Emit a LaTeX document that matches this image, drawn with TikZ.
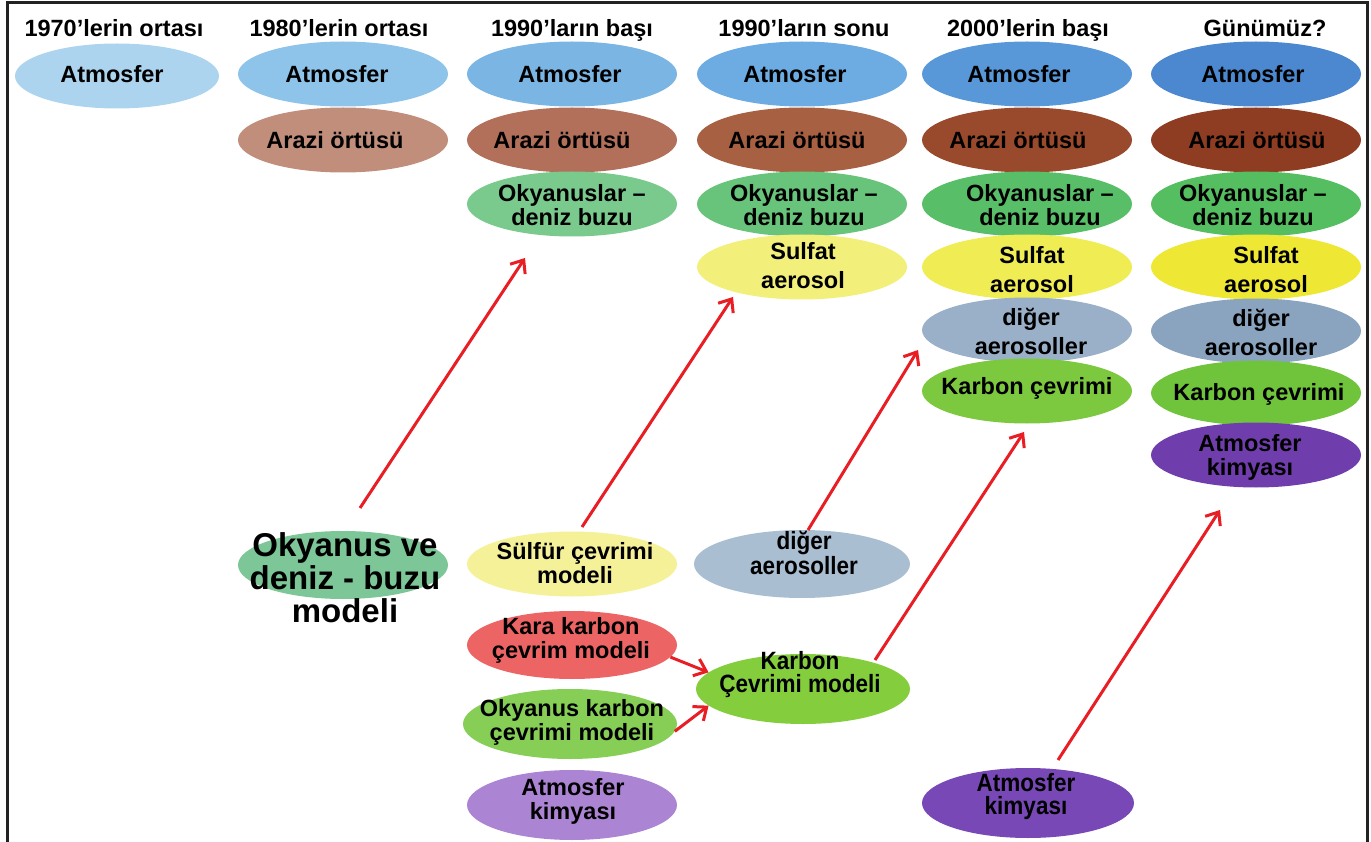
\documentclass[tikz,border=0pt]{standalone}
\usepackage{fontspec}
\setmainfont{Liberation Sans}
\newfontfamily\narrowfont{Liberation Sans}[FakeStretch=0.9]
\usetikzlibrary{shapes.geometric,arrows.meta}
\definecolor{atmA}{RGB}{172,212,238}
\definecolor{atmB}{RGB}{142,196,234}
\definecolor{atmC}{RGB}{122,181,227}
\definecolor{atmD}{RGB}{108,172,226}
\definecolor{atmE}{RGB}{88,152,216}
\definecolor{atmF}{RGB}{75,136,207}
\definecolor{arzB}{RGB}{192,142,122}
\definecolor{arzC}{RGB}{178,112,90}
\definecolor{arzD}{RGB}{168,96,66}
\definecolor{arzE}{RGB}{154,74,44}
\definecolor{arzF}{RGB}{142,60,34}
\definecolor{okyC}{RGB}{122,202,142}
\definecolor{okyD}{RGB}{104,196,122}
\definecolor{okyE}{RGB}{88,190,104}
\definecolor{okyF}{RGB}{84,190,96}
\definecolor{sulD}{RGB}{242,240,122}
\definecolor{sulE}{RGB}{240,236,84}
\definecolor{sulF}{RGB}{238,232,52}
\definecolor{aerB}{RGB}{170,190,210}
\definecolor{aerE}{RGB}{154,176,200}
\definecolor{aerF}{RGB}{138,163,191}
\definecolor{karE}{RGB}{124,200,62}
\definecolor{karF}{RGB}{112,196,60}
\definecolor{karM}{RGB}{132,206,62}
\definecolor{kimL}{RGB}{172,132,212}
\definecolor{kimE}{RGB}{120,72,182}
\definecolor{kimF}{RGB}{112,62,172}
\definecolor{redK}{RGB}{236,100,100}
\definecolor{okK}{RGB}{134,206,86}
\definecolor{sulM}{RGB}{245,241,152}
\definecolor{okM}{RGB}{124,198,152}
\definecolor{arrowred}{RGB}{232,30,36}
\definecolor{framec}{RGB}{34,34,34}
\tikzset{
  ell/.style={ellipse, fill=#1, draw=none, minimum width=210pt, minimum height=65pt, inner sep=0pt},
  lbl/.style={font=\fontsize{23.5}{24}\selectfont\bfseries, align=center, inner sep=0pt, text=black},
  lblwide/.style={font=\fontsize{23.5}{29}\selectfont\bfseries, align=center, inner sep=0pt, text=black},
  lblnarrow/.style={font=\narrowfont\fontsize{25}{23}\selectfont\bfseries, align=center, inner sep=0pt, text=black},
  hdr/.style={font=\fontsize{23.5}{26}\selectfont\bfseries, inner sep=0pt, anchor=base},
  big/.style={font=\fontsize{33}{33}\selectfont\bfseries, align=center, inner sep=0pt},
  redarrow/.style={draw=arrowred, line width=3pt, -{Straight Barb[length=11pt,width=18pt,line width=3pt]}},
}
\begin{document}
\begin{tikzpicture}[x=1pt,y=-1pt]
\useasboundingbox (0,0) rectangle (1371,842);
% frame
\draw[framec, line width=3pt] (7,842) -- (7,3) -- (1367,3) -- (1367,842);
% headers
\node[hdr] (h1) at (114,37) {1970’lerin ortası};
\node[hdr] (h2) at (339,37) {1980’lerin ortası};
\node[hdr] (h3) at (572,37) {1990’ların başı};
\node[hdr] (h4) at (804,37) {1990’ların sonu};
\node[hdr] (h5) at (1028,37) {2000’lerin başı};
\node[hdr] (h6) at (1265,37) {Günümüz?};
% column 1
\node[ell=atmA, minimum width=204pt] (c1a) at (117,76) {};
\node[lbl] (c1at) at (112,74) {Atmosfer};
% column 2
\node[ell=atmB] (c2a) at (343,74) {};
\node[lbl] (c2at) at (337,74) {Atmosfer};
\node[ell=arzB] (c2b) at (343,140) {};
\node[lbl] (c2bt) at (335,140) {Arazi örtüsü};
% column 3
\node[ell=atmC] (c3a) at (572,74) {};
\node[lbl] (c3at) at (570,74) {Atmosfer};
\node[ell=arzC] (c3b) at (572,140) {};
\node[lbl] (c3bt) at (562,140) {Arazi örtüsü};
\node[ell=okyC] (c3c) at (572,204) {};
\node[lbl] (c3ct) at (572,205) {Okyanuslar –\\deniz buzu};
% column 4
\node[ell=atmD] (c4a) at (802,74) {};
\node[lbl] (c4at) at (795,74) {Atmosfer};
\node[ell=arzD] (c4b) at (802,140) {};
\node[lbl] (c4bt) at (797,140) {Arazi örtüsü};
\node[ell=okyD] (c4c) at (802,204) {};
\node[lbl] (c4ct) at (804,205) {Okyanuslar –\\deniz buzu};
\node[ell=sulD] (c4d) at (802,267) {};
\node[lblwide] (c4dt) at (803,266) {Sulfat\\aerosol};
% column 5
\node[ell=atmE] (c5a) at (1027,74) {};
\node[lbl] (c5at) at (1019,74) {Atmosfer};
\node[ell=arzE] (c5b) at (1027,140) {};
\node[lbl] (c5bt) at (1018,140) {Arazi örtüsü};
\node[ell=okyE] (c5c) at (1027,204) {};
\node[lbl] (c5ct) at (1040,205) {Okyanuslar –\\deniz buzu};
\node[ell=sulE] (c5d) at (1027,267) {};
\node[lblwide] (c5dt) at (1032,270) {Sulfat\\aerosol};
\node[ell=aerE] (c5e) at (1027,330) {};
\node[lblwide] (c5et) at (1031,331) {diğer\\aerosoller};
\node[ell=karE] (c5f) at (1027,391) {};
\node[lbl] (c5ft) at (1027,388) {Karbon çevrimi};
% column 6
\node[ell=atmF] (c6a) at (1256,74) {};
\node[lbl] (c6at) at (1253,74) {Atmosfer};
\node[ell=arzF] (c6b) at (1256,140) {};
\node[lbl] (c6bt) at (1257,140) {Arazi örtüsü};
\node[ell=okyF] (c6c) at (1256,204) {};
\node[lbl] (c6ct) at (1253,205) {Okyanuslar –\\deniz buzu};
\node[ell=sulF] (c6d) at (1256,267) {};
\node[lblwide] (c6dt) at (1266,270) {Sulfat\\aerosol};
\node[ell=aerF] (c6e) at (1256,331) {};
\node[lblwide] (c6et) at (1261,332) {diğer\\aerosoller};
\node[ell=karF] (c6f) at (1256,393) {};
\node[lbl] (c6ft) at (1259,394) {Karbon çevrimi};
\node[ell=kimF] (c6g) at (1256,455) {};
\node[lbl] (c6gt) at (1250,457) {Atmosfer\\kimyası};
% bottom models
\node[ell=okM, minimum height=68pt] (m1) at (343,565) {};
\node[big] (m1t) at (345,578) {Okyanus ve\\deniz - buzu\\modeli};
\node[ell=sulM] (m2) at (572,564) {};
\node[lbl] (m2t) at (575,563) {Sülfür çevrimi\\modeli};
\node[ell=redK, minimum height=68pt] (m3) at (572,645) {};
\node[lbl] (m3t) at (571,640) {Kara karbon\\çevrim modeli};
\node[ell=okK, minimum width=214pt, minimum height=70pt] (m4) at (570,724) {};
\node[lbl] (m4t) at (572,722) {Okyanus karbon\\çevrimi modeli};
\node[ell=kimL, minimum height=70pt] (m5) at (572,805) {};
\node[lbl] (m5t) at (573,801) {Atmosfer\\kimyası};
\node[ell=aerB, minimum width=216pt, minimum height=68pt] (m6) at (802,564) {};
\node[lblnarrow] (m6t) at (804,553) {diğer\\aerosoller};
\node[ell=karM, minimum width=214pt, minimum height=70pt] (m7) at (803,689) {};
\node[lblnarrow] (m7t) at (800,675) {Karbon\\Çevrimi modeli};
\node[ell=kimE, minimum width=212pt, minimum height=70pt] (m8) at (1028,803) {};
\node[lblnarrow] (m8t) at (1026,797) {Atmosfer\\kimyası};
% arrow end points
\coordinate (a1s) at (360,508);
\coordinate (a1e) at (525,258);
\coordinate (a2s) at (582,527);
\coordinate (a2e) at (733,297);
\coordinate (a3s) at (808,530);
\coordinate (a3e) at (918,350);
\coordinate (a4s) at (875,660);
\coordinate (a4e) at (1024,432);
\coordinate (a5s) at (1058,760);
\coordinate (a5e) at (1220,510);
\draw[redarrow] (a1s) -- (a1e);
\draw[redarrow] (a2s) -- (a2e);
\draw[redarrow] (a3s) -- (a3e);
\draw[redarrow] (a4s) -- (a4e);
\draw[redarrow] (a5s) -- (a5e);
\draw[redarrow] (m3.-7) -- (m7.170);
\draw[redarrow] (m4.-4) -- (m7.190);
\end{tikzpicture}
\end{document}
